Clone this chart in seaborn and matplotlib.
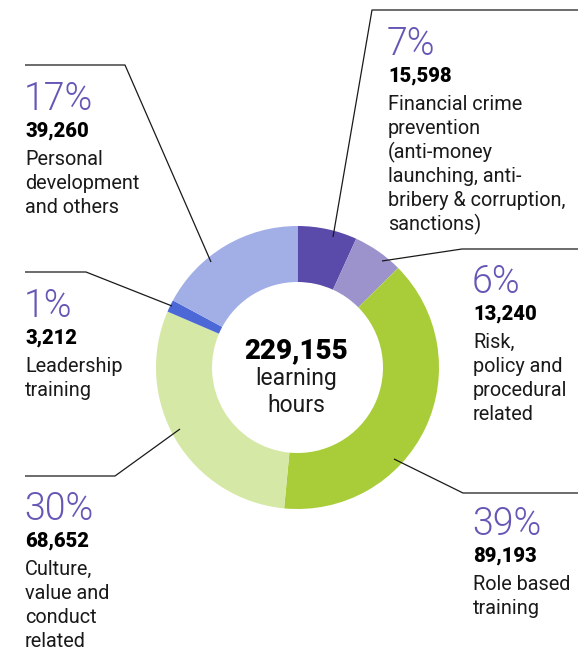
import matplotlib
matplotlib.use("Agg")
import seaborn as sns
from matplotlib import pyplot as plt

# data
categories = [
    "Financial crime\nprevention\n(anti-money\nlaunching, anti-\nbribery & corruption,\nsanctions)",
    "Risk,\npolicy and\nprocedural\nrelated",
    "Role based\ntraining",
    "Culture,\nvalue and\nconduct\nrelated",
    "Leadership\ntraining",
    "Personal\ndevelopment\nand others",
]
hours = [15598, 13240, 89193, 68652, 3212, 39260]
colors = ["#5a4aa9", "#9c93cd", "#a8cd38", "#d6e8a6", "#4c68d6", "#a2afe6"]
center_label = "learning\nhours"

# layout (image pixels, y from top)
W, H = 578, 650
CX, CY, R_OUT, RING = 297.5, 367.5, 141.5, 56
# x, baseline of the percentage
label_pos = [(388, 55), (473, 293), (473, 535), (25, 520), (25, 317), (25, 110)]
leaders = [
    [(578, 10), (372, 10), (333, 237)],
    [(578, 249), (462, 249), (382, 261)],
    [(578, 493), (463, 493), (394, 459)],
    [(25, 476), (115, 476), (180, 429)],
    [(25, 272), (86, 272), (172, 306)],
    [(25, 65), (125, 65), (211, 262)],
]
PURPLE = "#6657b6"


def fy(y):
    return H - y


sns.set_theme(style="white")
plt.rcParams["font.family"] = ["Roboto", "DejaVu Sans"]

fig = plt.figure(figsize=(W / 100, H / 100), dpi=100)
ax = fig.add_axes([0, 0, 1, 1])

ax.pie(hours, colors=colors, startangle=90, counterclock=False,
       radius=R_OUT, center=(CX, fy(CY)),
       wedgeprops=dict(width=RING, linewidth=0))
ax.set_xlim(0, W)
ax.set_ylim(0, H)
ax.set_aspect("equal")
ax.axis("off")

total = sum(hours)
for value, desc, (x, y), path in zip(hours, categories, label_pos, leaders):
    xs = [p[0] for p in path]
    ys = [fy(p[1]) for p in path]
    ax.plot(xs, ys, color="#1a1a1a", lw=0.9, solid_capstyle="butt")
    pct = round(value / total * 100)
    ax.text(x - 1, fy(y), f"{pct}%", fontsize=27, fontweight=300,
            color=PURPLE, va="baseline", ha="left")
    ax.text(x, fy(y + 27), f"{value:,}", fontsize=14.5, fontweight="heavy",
            color="black", va="baseline", ha="left")
    for i, line in enumerate(desc.split("\n")):
        ax.text(x, fy(y + 55 + 24 * i), line, fontsize=14.3, color="#1a1a1a",
                va="baseline", ha="left")

ax.text(296, fy(358), f"{total:,}", fontsize=20, fontweight="heavy",
        color="black", va="baseline", ha="center")
for i, line in enumerate(center_label.split("\n")):
    ax.text(296, fy(385 + 27 * i), line, fontsize=16.5, color="#1a1a1a",
            va="baseline", ha="center")

fig.savefig("out.png", dpi=100)
